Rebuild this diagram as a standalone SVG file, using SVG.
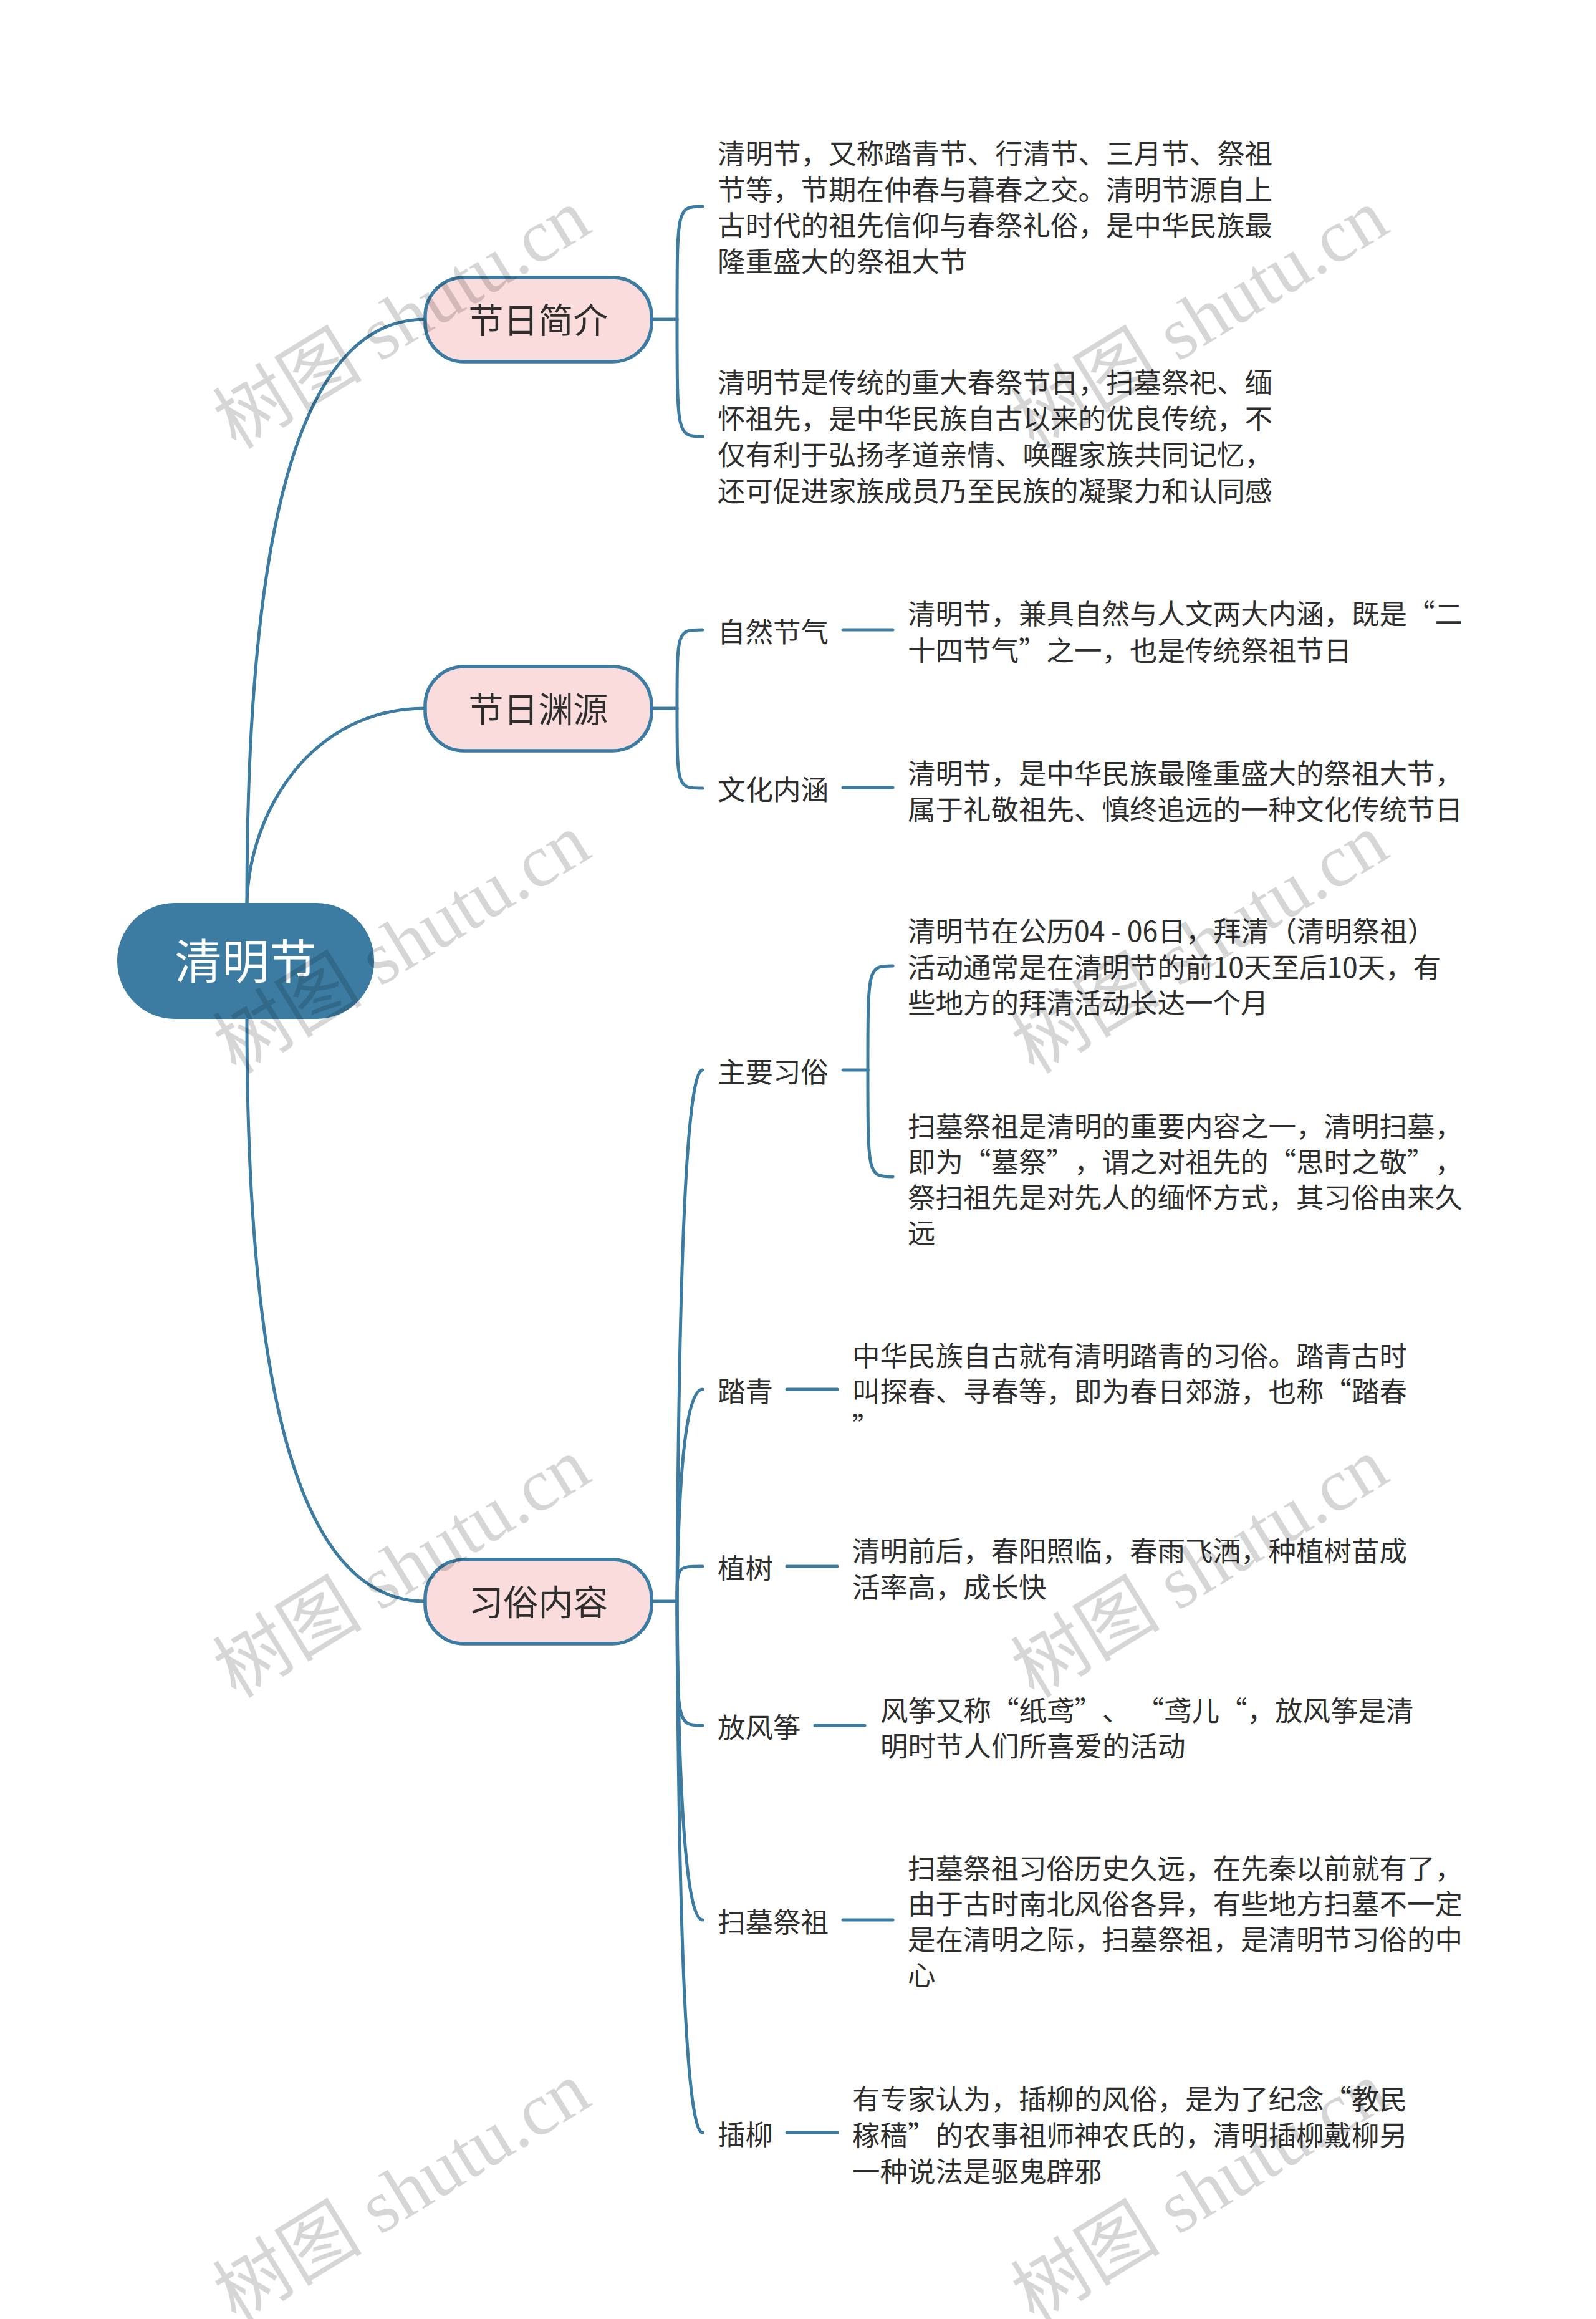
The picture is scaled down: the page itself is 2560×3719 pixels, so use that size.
<svg xmlns="http://www.w3.org/2000/svg" width="2560" height="3719" viewBox="0 0 2560 3719">
<style>
.c{fill:none;stroke:#3c7ca2;stroke-width:5;stroke-linecap:round}
.n1{fill:#fbdcdc;stroke:#3c7ca2;stroke-width:5.5}
.t{font-family:"Noto Sans CJK SC","Noto Sans",sans-serif;fill:#2e2e2e;text-spacing-trim:space-all}
.b{font-size:44.5px}
.h{font-size:56px;text-anchor:middle}
.wm{font-family:"Liberation Serif","Noto Sans CJK SC",serif;font-size:120px;fill:#000;fill-opacity:0.16;text-anchor:middle}
</style>
<rect width="2560" height="3719" fill="#ffffff"/>
<g id="connectors">
<path class="c" d="M396,1448 C396,880 470,512 682,512"/>
<path class="c" d="M396,1448 C400,1300 500,1136 682,1136"/>
<path class="c" d="M396,1634 C396,2200 470,2568 682,2568"/>
<path class="c" d="M1045,512 L1086,512"/>
<path class="c" d="M1086,512 C1086,331 1086,331 1127,331"/>
<path class="c" d="M1086,512 C1086,700 1086,700 1127,700"/>
<path class="c" d="M1045,1136 L1086,1136"/>
<path class="c" d="M1086,1136 C1086,1010 1086,1010 1127,1010"/>
<path class="c" d="M1086,1136 C1086,1264 1086,1264 1127,1264"/>
<path class="c" d="M1352,1010 L1432,1010"/>
<path class="c" d="M1352,1263 L1432,1263"/>
<path class="c" d="M1045,2568 L1086,2568"/>
<path class="c" d="M1086,2568 Q1090,1716 1127,1716"/>
<path class="c" d="M1086,2568 Q1090,2228 1127,2228"/>
<path class="c" d="M1086,2568 C1086,2512 1086,2512 1127,2512"/>
<path class="c" d="M1086,2568 C1086,2767 1086,2767 1127,2767"/>
<path class="c" d="M1086,2568 Q1090,3079 1127,3079"/>
<path class="c" d="M1086,2568 Q1090,3420 1127,3420"/>
<path class="c" d="M1352,1716 L1392,1716"/>
<path class="c" d="M1392,1716 C1392,1549 1392,1549 1432,1549"/>
<path class="c" d="M1392,1716 C1392,1887 1392,1887 1432,1887"/>
<path class="c" d="M1262,2228 L1343,2228"/>
<path class="c" d="M1262,2512 L1343,2512"/>
<path class="c" d="M1307,2767 L1387,2767"/>
<path class="c" d="M1352,3079 L1432,3079"/>
<path class="c" d="M1262,3420 L1343,3420"/>
</g>
<g id="root">
<rect x="188" y="1448" width="412" height="186" rx="92" ry="92" fill="#3c7ca2"/>
<text class="t" x="394" y="1570" font-size="76" text-anchor="middle" style="fill:#ffffff">清明节</text>
</g>
<g id="n-intro">
<rect class="n1" x="682" y="445" width="363" height="135" rx="62" ry="62"/>
<text class="t h" x="863.5" y="534">节日简介</text>
</g>
<g id="n-origin">
<rect class="n1" x="682" y="1069" width="363" height="135" rx="62" ry="62"/>
<text class="t h" x="863.5" y="1158">节日渊源</text>
</g>
<g id="n-custom">
<rect class="n1" x="682" y="2501" width="363" height="135" rx="62" ry="62"/>
<text class="t h" x="863.5" y="2590">习俗内容</text>
</g>
<g id="intro-1">
<text class="t b"><tspan x="1151" y="263">清明节，又称踏青节、行清节、三月节、祭祖</tspan><tspan x="1151" y="320.5">节等，节期在仲春与暮春之交。清明节源自上</tspan><tspan x="1151" y="378">古时代的祖先信仰与春祭礼俗，是中华民族最</tspan><tspan x="1151" y="435.5">隆重盛大的祭祖大节</tspan></text>
</g>
<g id="intro-2">
<text class="t b"><tspan x="1151" y="630">清明节是传统的重大春祭节日，扫墓祭祀、缅</tspan><tspan x="1151" y="688">怀祖先，是中华民族自古以来的优良传统，不</tspan><tspan x="1151" y="746">仅有利于弘扬孝道亲情、唤醒家族共同记忆，</tspan><tspan x="1151" y="804">还可促进家族成员乃至民族的凝聚力和认同感</tspan></text>
</g>
<g id="natural">
<text class="t b" x="1151" y="1030">自然节气</text>
</g>
<g id="natural-text">
<text class="t b"><tspan x="1456" y="1001">清明节，兼具自然与人文两大内涵，既是“二</tspan><tspan x="1456" y="1060">十四节气”之一，也是传统祭祖节日</tspan></text>
</g>
<g id="culture">
<text class="t b" x="1151" y="1283">文化内涵</text>
</g>
<g id="culture-text">
<text class="t b"><tspan x="1456" y="1257">清明节，是中华民族最隆重盛大的祭祖大节，</tspan><tspan x="1456" y="1315">属于礼敬祖先、慎终追远的一种文化传统节日</tspan></text>
</g>
<g id="main">
<text class="t b" x="1151" y="1736">主要习俗</text>
</g>
<g id="main-1">
<text class="t b"><tspan x="1456" y="1510">清明节在公历04 - 06日，拜清（清明祭祖）</tspan><tspan x="1456" y="1568">活动通常是在清明节的前10天至后10天，有</tspan><tspan x="1456" y="1625">些地方的拜清活动长达一个月</tspan></text>
</g>
<g id="main-2">
<text class="t b"><tspan x="1456" y="1823">扫墓祭祖是清明的重要内容之一，清明扫墓，</tspan><tspan x="1456" y="1880">即为“墓祭”，谓之对祖先的“思时之敬”，</tspan><tspan x="1456" y="1937">祭扫祖先是对先人的缅怀方式，其习俗由来久</tspan><tspan x="1456" y="1994">远</tspan></text>
</g>
<g id="taqing">
<text class="t b" x="1151" y="2248">踏青</text>
</g>
<g id="taqing-text">
<text class="t b"><tspan x="1367" y="2191">中华民族自古就有清明踏青的习俗。踏青古时</tspan><tspan x="1367" y="2248">叫探春、寻春等，即为春日郊游，也称“踏春</tspan><tspan x="1367" y="2305">”</tspan></text>
</g>
<g id="zhishu">
<text class="t b" x="1151" y="2532">植树</text>
</g>
<g id="zhishu-text">
<text class="t b"><tspan x="1367" y="2504">清明前后，春阳照临，春雨飞洒，种植树苗成</tspan><tspan x="1367" y="2562">活率高，成长快</tspan></text>
</g>
<g id="kite">
<text class="t b" x="1151" y="2787">放风筝</text>
</g>
<g id="kite-text">
<text class="t b"><tspan x="1412" y="2760">风筝又称“纸鸢”、 “鸢儿“，放风筝是清</tspan><tspan x="1412" y="2817">明时节人们所喜爱的活动</tspan></text>
</g>
<g id="saomu">
<text class="t b" x="1151" y="3099">扫墓祭祖</text>
</g>
<g id="saomu-text">
<text class="t b"><tspan x="1456" y="3013">扫墓祭祖习俗历史久远，在先秦以前就有了，</tspan><tspan x="1456" y="3070">由于古时南北风俗各异，有些地方扫墓不一定</tspan><tspan x="1456" y="3127">是在清明之际，扫墓祭祖，是清明节习俗的中</tspan><tspan x="1456" y="3184">心</tspan></text>
</g>
<g id="chaliu">
<text class="t b" x="1151" y="3440">插柳</text>
</g>
<g id="chaliu-text">
<text class="t b"><tspan x="1367" y="3383">有专家认为，插柳的风俗，是为了纪念“教民</tspan><tspan x="1367" y="3441">稼穑”的农事祖师神农氏的，清明插柳戴柳另</tspan><tspan x="1367" y="3499">一种说法是驱鬼辟邪</tspan></text>
</g>
<g id="watermarks">
<text class="wm" transform="translate(645,512) rotate(-31.5)" y="40">树图 shutu.cn</text>
<text class="wm" transform="translate(1925,512) rotate(-31.5)" y="40">树图 shutu.cn</text>
<text class="wm" transform="translate(645,1514) rotate(-31.5)" y="40">树图 shutu.cn</text>
<text class="wm" transform="translate(1925,1514) rotate(-31.5)" y="40">树图 shutu.cn</text>
<text class="wm" transform="translate(645,2515) rotate(-31.5)" y="40">树图 shutu.cn</text>
<text class="wm" transform="translate(1925,2515) rotate(-31.5)" y="40">树图 shutu.cn</text>
<text class="wm" transform="translate(645,3516) rotate(-31.5)" y="40">树图 shutu.cn</text>
<text class="wm" transform="translate(1925,3516) rotate(-31.5)" y="40">树图 shutu.cn</text>
</g>
</svg>
